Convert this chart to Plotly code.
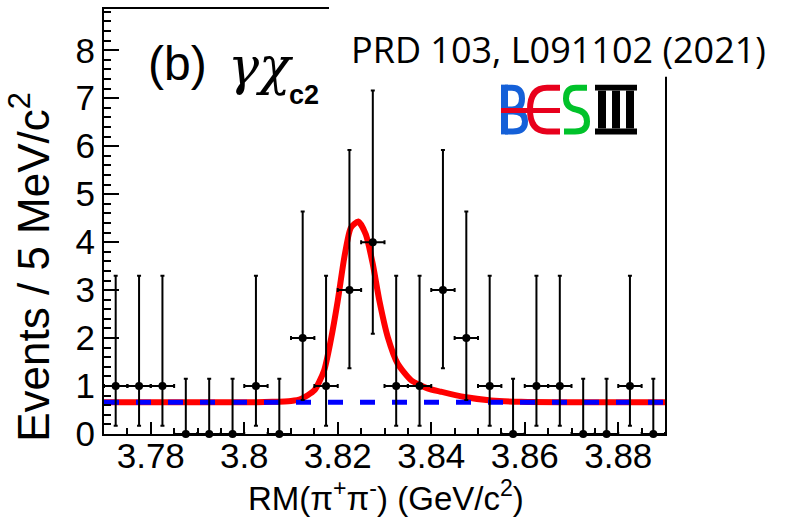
import plotly.graph_objects as go

# ---------------- data ----------------
bin_centers = [3.7725, 3.7775, 3.7825, 3.7875, 3.7925, 3.7975, 3.8025, 3.8075,
               3.8125, 3.8175, 3.8225, 3.8275, 3.8325, 3.8375, 3.8425, 3.8475,
               3.8525, 3.8575, 3.8625, 3.8675, 3.8725, 3.8775, 3.8825, 3.8875]
counts = [1, 1, 1, 0, 0, 0, 1, 0, 2, 1, 3, 4, 1, 1, 3, 2, 1, 0, 1, 1, 0, 0, 1, 0]
bin_half_width = [0.0025] * len(bin_centers)

# Poisson (asymmetric) error sizes, by count
err_low_by_count = {0: 0.0, 1: 0.83, 2: 1.29, 3: 1.63, 4: 1.91}
err_high_by_count = {0: 1.15, 1: 2.30, 2: 2.64, 3: 2.92, 4: 3.16}

fit_x = [3.770, 3.800, 3.806, 3.810, 3.8121, 3.8150, 3.8171, 3.8185, 3.8200,
         3.8214, 3.8228, 3.8244, 3.8260, 3.8275, 3.8289, 3.8307, 3.8328,
         3.8357, 3.8392, 3.8421, 3.8471, 3.8528, 3.8592, 3.870, 3.890]
fit_y = [0.66, 0.66, 0.67, 0.69, 0.73, 0.91, 1.33, 1.95, 2.78,
         3.68, 4.30, 4.43, 4.16, 3.54, 2.78, 2.02, 1.47,
         1.12, 0.95, 0.88, 0.77, 0.70, 0.67, 0.66, 0.66]

bkg_x = [3.770, 3.890]
bkg_y = [0.66, 0.66]

x_tickvals = [3.78, 3.80, 3.82, 3.84, 3.86, 3.88]
x_ticktext = ["3.78", "3.8", "3.82", "3.84", "3.86", "3.88"]
y_tickvals = [0, 1, 2, 3, 4, 5, 6, 7, 8]
y_ticktext = ["0", "1", "2", "3", "4", "5", "6", "7", "8"]

err_minus = [err_low_by_count[c] for c in counts]
err_plus = [err_high_by_count[c] for c in counts]

# ---------------- geometry helpers (pixel -> paper) ----------------
L, R, T, B = 104, 123, 7, 85
W, H = 788, 519
PW, PH = W - L - R, H - T - B


def pp(x, y):
    return (x - L) / PW, (H - B - y) / PH


def path(cmds):
    out = []
    for c in cmds:
        if isinstance(c, str):
            out.append(c)
        else:
            xx, yy = pp(*c)
            out.append(f"{xx:.5f},{yy:.5f}")
    return " ".join(out)


fig = go.Figure()

fig.add_trace(go.Scatter(x=fit_x, y=fit_y, mode="lines",
                         line=dict(color="#ff0000", width=6, shape="spline", smoothing=0.6),
                         hoverinfo="skip", showlegend=False))
fig.add_trace(go.Scatter(x=bkg_x, y=bkg_y, mode="lines",
                         line=dict(color="#0000ff", width=5, dash="15px,17px"),
                         hoverinfo="skip", showlegend=False))
fig.add_trace(go.Scatter(
    x=bin_centers, y=counts, mode="markers",
    marker=dict(color="black", size=8, symbol="circle"),
    error_y=dict(type="data", symmetric=False, array=err_plus, arrayminus=err_minus,
                 color="black", thickness=2, width=2),
    error_x=dict(type="data", array=bin_half_width, color="black", thickness=2, width=2),
    cliponaxis=False, showlegend=False))

tickfont = dict(family="Liberation Sans, Arial, sans-serif", size=35, color="black")

fig.update_layout(
    width=W, height=H,
    margin=dict(l=L, r=R, t=T, b=B),
    paper_bgcolor="white", plot_bgcolor="white",
    showlegend=False,
    xaxis=dict(range=[3.77, 3.89], tickmode="array", tickvals=x_tickvals, ticktext=x_ticktext,
               ticks="inside", ticklen=12, tickwidth=2, tickcolor="black",
               showline=True, linewidth=2, linecolor="black", mirror=True,
               showgrid=False, zeroline=False, tickfont=tickfont, ticklabelstandoff=-10,
               minor=dict(tickmode="linear", tick0=3.77, dtick=0.005, ticks="inside",
                          ticklen=6, tickwidth=2, tickcolor="black", showgrid=False)),
    yaxis=dict(range=[0, 8.86], tickmode="array", tickvals=y_tickvals, ticktext=y_ticktext,
               ticks="inside", ticklen=15, tickwidth=2, tickcolor="black",
               showline=True, linewidth=2, linecolor="black", mirror=True,
               showgrid=False, zeroline=False, tickfont=tickfont,
               minor=dict(tickmode="linear", tick0=0, dtick=0.2, ticks="inside",
                          ticklen=7, tickwidth=2, tickcolor="black", showgrid=False)),
)

shapes = []
# white box hiding the frame behind the citation
x0, y0 = pp(329, 75)
shapes.append(dict(type="rect", xref="paper", yref="paper", x0=x0, x1=1.3, y0=y0, y1=1.1,
                   fillcolor="white", line=dict(width=0), layer="above"))

# BESIII logo
blue, red, green = "#1560d8", "#e8001c", "#00c22a"
sx0, sy0 = pp(501, 83)
sx1, sy1 = pp(508, 133)
shapes.append(dict(type="rect", xref="paper", yref="paper", x0=sx0, x1=sx1, y0=sy1, y1=sy0,
                   fillcolor=blue, line=dict(width=0), layer="above"))
shapes.append(dict(type="path", xref="paper", yref="paper", layer="above",
                   path=path(["M", (505, 86), "L", (512, 86), "Q", (522, 86), (522, 97),
                              "Q", (522, 108), (512, 108), "L", (505, 108)]),
                   line=dict(color=blue, width=6)))
shapes.append(dict(type="path", xref="paper", yref="paper", layer="above",
                   path=path(["M", (505, 110), "L", (513, 110), "Q", (525, 110), (525, 120),
                              "Q", (525, 130), (513, 130), "L", (505, 130)]),
                   line=dict(color=blue, width=6)))
shapes.append(dict(type="path", xref="paper", yref="paper", layer="above",
                   path=path(["M", (560, 86), "L", (547, 86), "Q", (530, 86), (530, 108),
                              "Q", (530, 130), (547, 130), "L", (560, 130)]),
                   line=dict(color=red, width=6)))
shapes.append(dict(type="path", xref="paper", yref="paper", layer="above",
                   path=path(["M", (501, 109), "L", (560, 109)]),
                   line=dict(color=red, width=5)))
shapes.append(dict(type="path", xref="paper", yref="paper", layer="above",
                   path=path(["M", (587, 86), "L", (576, 86), "Q", (566, 86), (566, 97),
                              "Q", (566, 106), (576, 108), "Q", (587, 110), (587, 120),
                              "Q", (587, 130), (575, 130), "L", (564, 130)]),
                   line=dict(color=green, width=6)))
for (a, b_, c, d) in [(595, 83, 637, 89), (595, 127, 637, 133),
                      (598, 89, 606, 127), (612, 89, 620, 127), (626, 89, 634, 127)]:
    ax0, ay0 = pp(a, b_)
    ax1, ay1 = pp(c, d)
    shapes.append(dict(type="rect", xref="paper", yref="paper", x0=ax0, x1=ax1, y0=ay1, y1=ay0,
                       fillcolor="black", line=dict(width=0), layer="above"))

fig.update_layout(shapes=shapes)

ann = []
sans = "Liberation Sans, Arial, sans-serif"
ax_, ay_ = pp(146, 62)
ann.append(dict(text="(b)", x=ax_, y=ay_, xref="paper", yref="paper", xanchor="left",
                yanchor="middle", showarrow=False,
                font=dict(family=sans, size=48, color="black")))
ax_, ay_ = pp(226, 64)
ann.append(dict(text="<i>γχ</i>", x=ax_, y=ay_, xref="paper", yref="paper", xanchor="left",
                yanchor="middle", showarrow=False,
                font=dict(family="DejaVu Serif, serif", size=52, color="black")))
ax_, ay_ = pp(287, 93)
ann.append(dict(text="<b>c2</b>", x=ax_, y=ay_, xref="paper", yref="paper", xanchor="left",
                yanchor="middle", showarrow=False,
                font=dict(family=sans, size=27, color="black")))
ax_, ay_ = pp(558, 48)
ann.append(dict(text="PRD 103, L091102 (2021)", x=ax_, y=ay_, xref="paper", yref="paper",
                xanchor="center", yanchor="middle", showarrow=False,
                font=dict(family="Open Sans, sans-serif", size=36, color="black")))
ax_, ay_ = pp(30, 266)
ann.append(dict(text="Events / 5 MeV/c<sup>2</sup>", x=ax_, y=ay_, xref="paper", yref="paper",
                xanchor="center", yanchor="middle", textangle=-90, showarrow=False,
                font=dict(family=sans, size=44, color="black")))
ax_, ay_ = pp(386, 496)
ann.append(dict(text="RM(π<sup>+</sup>π<sup>-</sup>) (GeV/c<sup>2</sup>)", x=ax_, y=ay_,
                xref="paper", yref="paper", xanchor="center", yanchor="middle",
                showarrow=False, font=dict(family=sans, size=33, color="black")))
fig.update_layout(annotations=ann)

fig.write_html("out.html")
